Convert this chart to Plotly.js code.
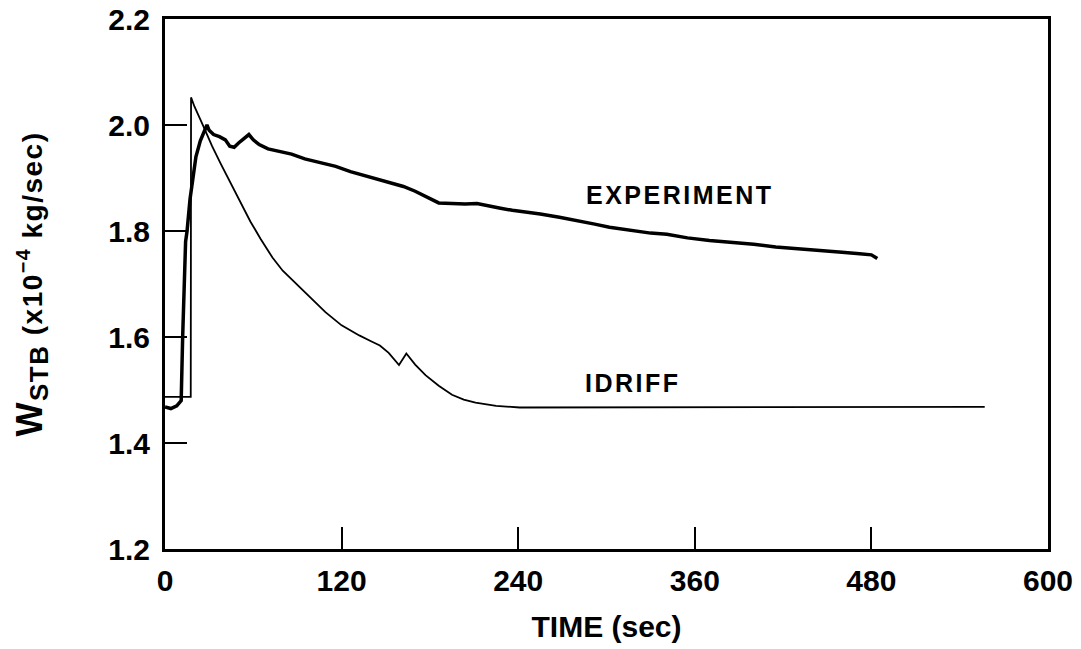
<!DOCTYPE html>
<html>
<head>
<meta charset="utf-8">
<script src="https://cdn.plot.ly/plotly-3.0.1.min.js"></script>
<style>
  html, body { margin: 0; padding: 0; background: #fff; }
  #chart { width: 1081px; height: 649px; }
  .annotation-text { letter-spacing: 2.5px; }
  .ytitle { letter-spacing: 1.5px; }
</style>
</head>
<body>
<div id="chart"></div>
<script>
// EXPERIMENT series (time in sec, W_STB in 1e-4 kg/sec)
var expTime = [0, 4, 8, 11, 12, 13, 14, 15, 17, 19, 21, 24, 27, 28.5, 30, 33, 37, 41, 44, 47, 50, 54, 57, 60, 64, 70, 78, 86, 95, 105, 116, 126, 135, 145, 154, 162, 170, 178, 186, 195, 204, 212, 220, 228, 236, 245, 255, 268, 280, 292, 302, 315, 330, 341, 355, 370, 386, 400, 415, 431, 445, 460, 472, 480, 484];
var expValue = [1.468, 1.465, 1.470, 1.480, 1.60, 1.72, 1.78, 1.80, 1.86, 1.90, 1.94, 1.97, 1.99, 2.00, 1.99, 1.982, 1.978, 1.972, 1.960, 1.958, 1.966, 1.975, 1.982, 1.972, 1.963, 1.955, 1.950, 1.945, 1.936, 1.930, 1.922, 1.912, 1.905, 1.897, 1.891, 1.884, 1.875, 1.864, 1.853, 1.852, 1.851, 1.852, 1.847, 1.843, 1.839, 1.836, 1.832, 1.826, 1.820, 1.813, 1.807, 1.802, 1.796, 1.794, 1.787, 1.782, 1.779, 1.775, 1.770, 1.767, 1.763, 1.760, 1.757, 1.755, 1.748];

// IDRIFF series
var idrTime = [0, 17.5, 17.7, 20, 26.5, 32, 38, 45, 52, 58, 65, 73, 80, 86, 95, 109, 120, 132, 140, 146, 152, 159, 164, 170, 177, 186, 195, 203, 211, 225, 241, 300, 400, 557];
var idrValue = [1.487, 1.487, 2.052, 2.035, 1.995, 1.960, 1.926, 1.888, 1.852, 1.818, 1.785, 1.750, 1.725, 1.709, 1.685, 1.647, 1.622, 1.603, 1.592, 1.584, 1.570, 1.547, 1.569, 1.548, 1.528, 1.508, 1.491, 1.482, 1.476, 1.470, 1.467, 1.467, 1.467, 1.468];

var xTicks = [0, 120, 240, 360, 480, 600];
var yTicks = [1.2, 1.4, 1.6, 1.8, 2.0, 2.2];

var FONT = '"Liberation Sans", Arial, Helvetica, sans-serif';

var traces = [
  {x: expTime, y: expValue, mode: 'lines', name: 'EXPERIMENT',
   line: {color: '#000', width: 3.5}},
  {x: idrTime, y: idrValue, mode: 'lines', name: 'IDRIFF',
   line: {color: '#000', width: 1.8}}
];

var layout = {
  width: 1081, height: 649,
  margin: {l: 165, r: 33, t: 19, b: 100},
  paper_bgcolor: '#fff', plot_bgcolor: '#fff',
  showlegend: false,
  font: {family: FONT, color: '#000'},
  xaxis: {
    range: [0, 600], tickvals: xTicks, ticktext: xTicks.map(String),
    ticks: 'inside', ticklen: 22, tickwidth: 2, tickcolor: '#000',
    showline: true, linewidth: 3, linecolor: '#000', mirror: true,
    showgrid: false, zeroline: false, ticklabelstandoff: 3,
    tickfont: {size: 30, family: FONT, color: '#000', weight: 'bold'},
    title: {text: 'TIME (sec)', font: {size: 30, family: FONT, color: '#000', weight: 'bold'}, standoff: 20}
  },
  yaxis: {
    range: [1.2, 2.2], tickvals: yTicks, ticktext: yTicks.map(function(v){return v.toFixed(1);}),
    ticks: 'inside', ticklen: 22, tickwidth: 2, tickcolor: '#000',
    showline: true, linewidth: 3, linecolor: '#000', mirror: true,
    showgrid: false, zeroline: false, ticklabelstandoff: 6,
    tickfont: {size: 30, family: FONT, color: '#000', weight: 'bold'},
    title: {text: '<span style="font-size:36px">W</span><sub><span style="font-size:26px">STB</span></sub> (x10<sup>−4</sup> kg/sec)', font: {size: 28, family: FONT, color: '#000', weight: 'bold'}, standoff: 58}
  },
  annotations: [
    {x: 350, y: 1.867, xref: 'x', yref: 'y', text: 'EXPERIMENT', showarrow: false,
     xanchor: 'center', yanchor: 'middle', font: {size: 25, family: FONT, color: '#000', weight: 'bold'}},
    {x: 318, y: 1.513, xref: 'x', yref: 'y', text: 'IDRIFF', showarrow: false,
     xanchor: 'center', yanchor: 'middle', font: {size: 25, family: FONT, color: '#000', weight: 'bold'}}
  ]
};

Plotly.newPlot('chart', traces, layout, {displayModeBar: false, staticPlot: true});
</script>
</body>
</html>
